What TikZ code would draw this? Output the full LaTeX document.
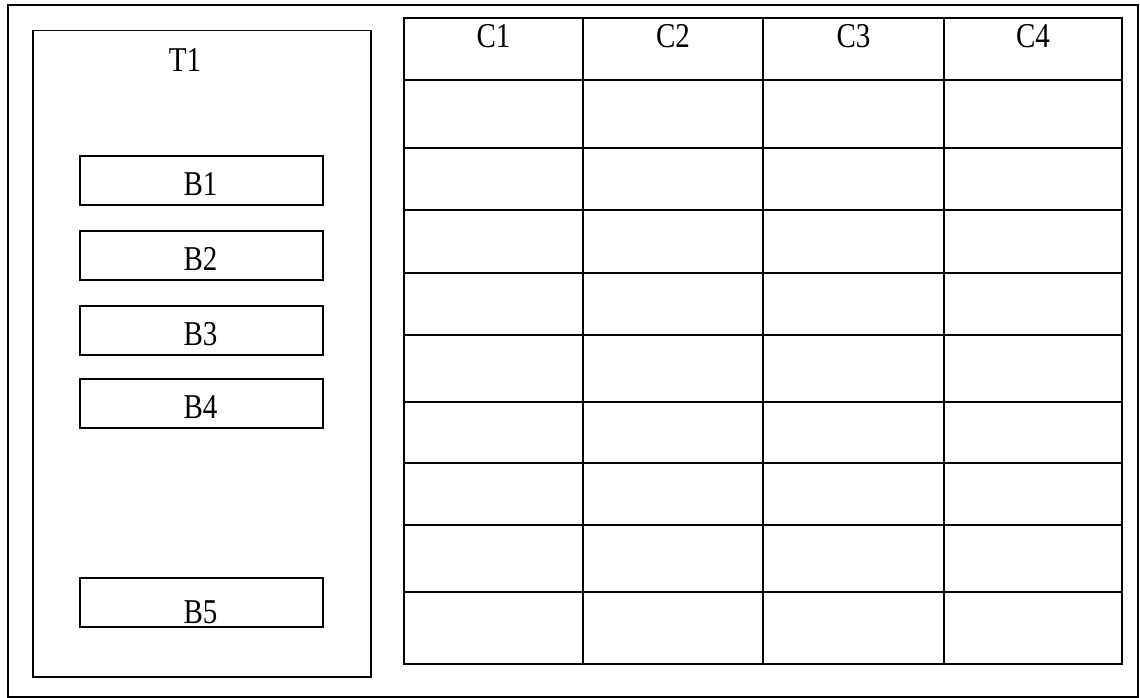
\documentclass[tikz,border=0pt]{standalone}
\usepackage{fontspec}
\setmainfont{Liberation Serif}
\begin{document}
\begin{tikzpicture}[x=1pt,y=-1pt,line width=1.5pt,
  lbl/.style={font=\fontsize{29}{31}\selectfont,inner sep=0pt,anchor=base},
  bx/.style={draw,minimum width=243pt,minimum height=49pt,inner sep=0pt,anchor=north west},
  panel/.style={draw,minimum width=338pt,minimum height=646pt,inner sep=0pt,anchor=north west}]
\useasboundingbox (0,0) rectangle (1140,698);
% outer frame
\draw[line width=1.2pt] (8,5) rectangle (1138,697);
% left panel
\node[panel] (pan) at (32,30) {};
\node[lbl] (t1) at (185,72) {\scalebox{1}[1.2]{T1}};
\node[bx] (b1) at (79,155) {};
\node[bx] (b2) at (79,230) {};
\node[bx] (b3) at (79,305) {};
\node[bx] (b4) at (79,378) {};
\node[bx] (b5) at (79,577) {};
\node[lbl] (l1) at (200.5,195) {\scalebox{1}[1.2]{B1}};
\node[lbl] (l2) at (200.5,270) {\scalebox{1}[1.2]{B2}};
\node[lbl] (l3) at (200.5,345) {\scalebox{1}[1.2]{B3}};
\node[lbl] (l4) at (200.5,418) {\scalebox{1}[1.2]{B4}};
\node[lbl] (l5) at (200.5,623) {\scalebox{1}[1.2]{B5}};
% table
\draw (404,18) rectangle (1122,664);
\foreach \x in {583,763,944} \draw (\x,18) -- (\x,664);
\foreach \y in {80,148,210,273,335,402,463,525,592} \draw (404,\y) -- (1122,\y);
\node[lbl] (c1) at (493.5,48) {\scalebox{1}[1.2]{C1}};
\node[lbl] (c2) at (673,48) {\scalebox{1}[1.2]{C2}};
\node[lbl] (c3) at (853.5,48) {\scalebox{1}[1.2]{C3}};
\node[lbl] (c4) at (1033,48) {\scalebox{1}[1.2]{C4}};
\end{tikzpicture}
\end{document}
